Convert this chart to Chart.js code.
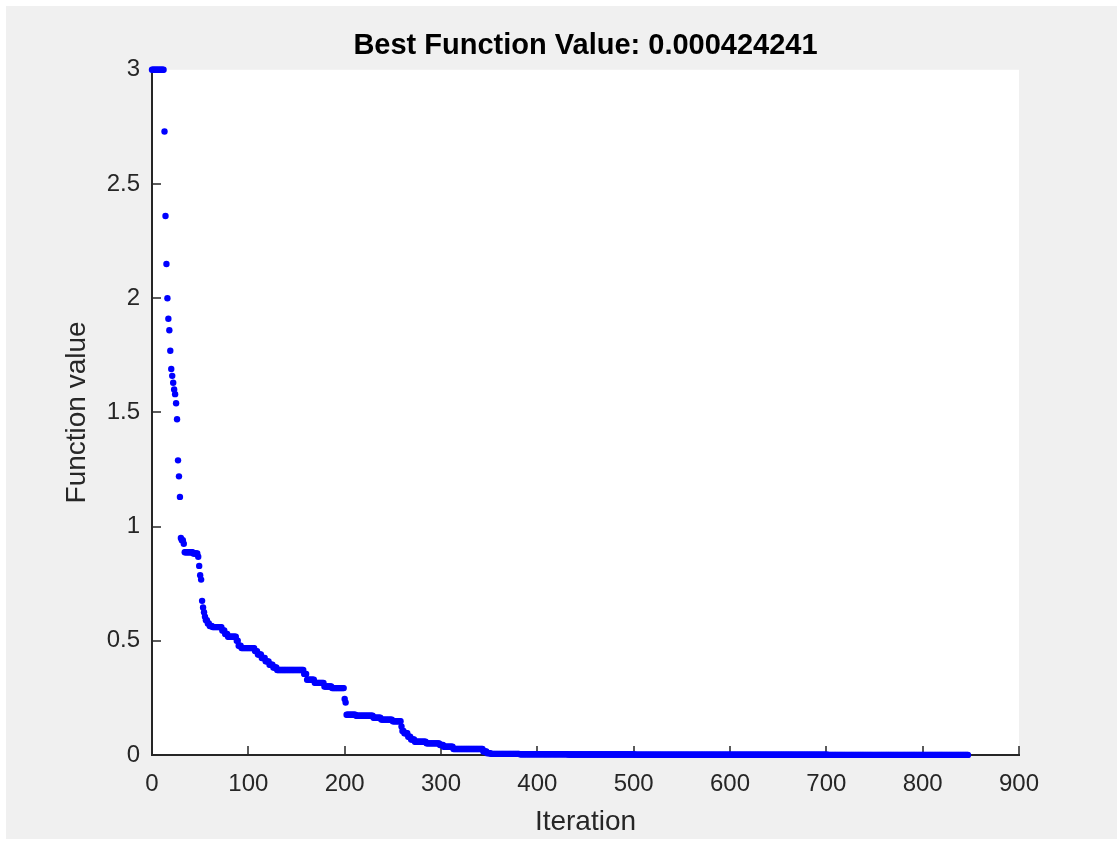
<!DOCTYPE html>
<html>
<head>
<meta charset="utf-8">
<script src="https://cdn.jsdelivr.net/npm/chart.js@4.4.1/dist/chart.umd.min.js"></script>
<style>
  body { margin: 0; background: #ffffff; }
  #chartContainer { position: absolute; left: 6px; top: 6px; width: 1111px; height: 833px; background: #f0f0f0; }
</style>
</head>
<body>
<div id="chartContainer"><canvas id="bestfChart" width="1111" height="833"></canvas></div>
<script>
// Best function value per iteration, stored as steps: value and how many iterations it lasted
const stepValues = [
  3.0, 2.73, 2.36, 2.15, 2.0, 1.91, 1.86, 1.77, 1.69, 1.66, 1.63, 1.60, 1.58, 1.54, 1.47, 1.29, 1.22, 1.13,
  0.95, 0.94, 0.925, 0.888, 0.882, 0.868, 0.828, 0.787, 0.768, 0.675, 0.646, 0.625, 0.605, 0.59, 0.576,
  0.565, 0.56, 0.545, 0.53, 0.518, 0.5, 0.478, 0.468, 0.455, 0.44, 0.425, 0.41, 0.395, 0.383, 0.372,
  0.355, 0.33, 0.316, 0.3, 0.293, 0.245, 0.23, 0.176, 0.172, 0.163, 0.155, 0.148, 0.125, 0.105, 0.095,
  0.08, 0.068, 0.058, 0.051, 0.044, 0.036, 0.026, 0.015, 0.008, 0.005, 0.0035, 0.0025, 0.0015, 0.001,
  0.0007, 0.000424241
];
const stepCounts = [
  13, 1, 1, 1, 1, 1, 1, 1, 1, 1, 1, 1, 1, 1, 1, 1, 1, 1,
  1, 2, 1, 9, 5, 1, 1, 1, 1, 1, 1, 1, 1, 2, 2,
  3, 10, 3, 3, 9, 2, 3, 14, 3, 4, 4, 4, 4, 4, 28,
  3, 8, 10, 8, 13, 1, 1, 10, 18, 8, 12, 9, 1, 2, 4,
  3, 4, 12, 14, 4, 10, 31, 4, 4, 30, 50, 70, 100, 100,
  80, 66
];

const titleText = 'Best Function Value: 0.000424241';
const xLabel = 'Iteration';
const yLabel = 'Function value';
const xRange = [0, 900, 100];
const yRange = [0, 3, 0.5];

const axisColor = '#262626';

// one point per iteration
const points = [];
let iter = 0;
stepValues.forEach((v, i) => {
    for (let k = 0; k < stepCounts[i]; k++) {
        points.push({ x: iter, y: v });
        iter++;
    }
});

// white plot box
const plotBackground = {
    id: 'plotBackground',
    beforeDraw(chart) {
        const { ctx, chartArea } = chart;
        ctx.save();
        ctx.fillStyle = '#ffffff';
        ctx.fillRect(chartArea.left, chartArea.top, chartArea.right - chartArea.left, chartArea.bottom - chartArea.top);
        ctx.restore();
    }
};

// matlab style ticks pointing into the plot
const insideTicks = {
    id: 'insideTicks',
    beforeDatasetsDraw(chart) {
        const { ctx, chartArea, scales } = chart;
        ctx.save();
        ctx.strokeStyle = axisColor;
        ctx.lineWidth = 1.5;
        ctx.beginPath();
        scales.x.ticks.forEach(t => {
            const px = Math.round(scales.x.getPixelForValue(t.value));
            ctx.moveTo(px, chartArea.bottom);
            ctx.lineTo(px, chartArea.bottom - 9);
        });
        scales.y.ticks.forEach(t => {
            const py = Math.round(scales.y.getPixelForValue(t.value));
            ctx.moveTo(chartArea.left, py);
            ctx.lineTo(chartArea.left + 9, py);
        });
        ctx.stroke();
        ctx.restore();
    }
};

Chart.defaults.font.family = "'Liberation Sans', Arial, sans-serif";

const ctx = document.getElementById('bestfChart').getContext('2d');
new Chart(ctx, {
    type: 'scatter',
    data: {
        datasets: [{
            data: points,
            pointRadius: 3.2,
            pointBackgroundColor: '#0000ff',
            pointBorderWidth: 0,
            showLine: false,
            clip: false
        }]
    },
    options: {
        responsive: false,
        animation: false,
        devicePixelRatio: 1,
        layout: { padding: { left: 54, right: 98, top: 0, bottom: 0 } },
        plugins: {
            legend: { display: false },
            tooltip: { enabled: false },
            title: {
                display: true,
                text: titleText,
                fullSize: false,
                color: '#000000',
                font: { size: 29, weight: 'bold', lineHeight: 1.2 },
                padding: { top: 23, bottom: 6 }
            }
        },
        scales: {
            x: {
                type: 'linear',
                min: xRange[0],
                max: xRange[1],
                afterFit: (scale) => { scale.height = 84; },
                ticks: { stepSize: xRange[2], color: axisColor, font: { size: 24 }, padding: 15, maxRotation: 0,
                         callback: (v) => String(v) },
                grid: { display: true, drawOnChartArea: false, drawTicks: false },
                border: { display: true, color: axisColor, width: 2 },
                title: { display: true, text: xLabel, color: axisColor, font: { size: 28 }, padding: { top: 0, bottom: 0 } }
            },
            y: {
                type: 'linear',
                min: yRange[0],
                max: yRange[1],
                afterFit: (scale) => { scale.width = 92; },
                ticks: { stepSize: yRange[2], color: axisColor, font: { size: 24 }, padding: 12,
                         callback: (v) => String(v) },
                grid: { display: true, drawOnChartArea: false, drawTicks: false },
                border: { display: true, color: axisColor, width: 2 },
                title: { display: true, text: yLabel, color: axisColor, font: { size: 28 }, padding: { top: 0, bottom: 0 } }
            }
        }
    },
    plugins: [plotBackground, insideTicks]
});
</script>
</body>
</html>
